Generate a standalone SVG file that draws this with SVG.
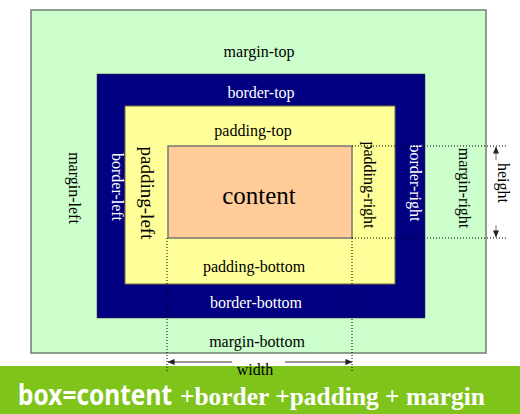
<svg xmlns="http://www.w3.org/2000/svg" width="520" height="414" viewBox="0 0 520 414">
<style>
.t{font-family:"Liberation Serif","Times New Roman",serif;font-size:16px;fill:#000;text-anchor:middle}
.w{fill:#fff}
.dot{stroke:#000;stroke-width:1;stroke-dasharray:1,2;fill:none}
.arr{stroke:#777;stroke-width:1.5;fill:none}
</style>
<defs>
<marker id="ah" viewBox="0 0 8 8" refX="7.5" refY="4" markerWidth="7" markerHeight="7" orient="auto-start-reverse" markerUnits="userSpaceOnUse">
<path d="M0,0.5 L8,4 L0,7.5 z" fill="#222"/>
</marker>
</defs>
<rect width="520" height="414" fill="#fff"/>
<g id="margin">
<rect x="31" y="10" width="455" height="343" fill="#ccffcc" stroke="#6f7f6f" stroke-width="1.5"/>
<text class="t" x="259" y="57">margin-top</text>
<text class="t" x="257" y="347">margin-bottom</text>
<text class="t" transform="translate(69,188) rotate(90)">margin-left</text>
<text class="t" transform="translate(459,188) rotate(90)">margin-right</text>
</g>
<g id="border">
<rect x="97" y="74" width="328" height="244" fill="#000080" stroke="#333" stroke-width="0.5"/>
<text class="t w" x="261" y="98">border-top</text>
<text class="t w" x="256" y="308">border-bottom</text>
<text class="t w" transform="translate(112,187) rotate(90)">border-left</text>
<text class="t w" transform="translate(410,183) rotate(90)">border-right</text>
</g>
<g id="padding">
<rect x="125" y="106" width="270" height="178" fill="#ffff99" stroke="#7a6a3a" stroke-width="1"/>
<text class="t" x="253" y="136">padding-top</text>
<text class="t" x="254" y="272">padding-bottom</text>
<text class="t" style="font-size:19px" transform="translate(141,193) rotate(90)">padding-left</text>
<text class="t" transform="translate(364,185) rotate(90)">padding-right</text>
</g>
<g id="content">
<rect x="168" y="146" width="184" height="92" fill="#ffcc99" stroke="#777" stroke-width="1.5"/>
<text class="t" style="font-size:25px" x="259" y="204">content</text>
</g>
<g id="banner">
<rect x="0" y="366" width="520" height="48" fill="#7fc41a"/>
<text x="18" y="405" textLength="154" lengthAdjust="spacingAndGlyphs" style="font-family:'Noto Sans','Open Sans',sans-serif;font-weight:bold;font-size:29px;fill:#fff">box=content</text>
<text x="180" y="405" textLength="305" lengthAdjust="spacingAndGlyphs" style="font-family:'Liberation Serif','Times New Roman',serif;font-weight:bold;font-size:25px;fill:#fff">+border +padding + margin</text>
</g>
<g id="connectors">
<line class="dot" x1="352" y1="146" x2="507" y2="146"/>
<line class="dot" x1="352" y1="238" x2="507" y2="238"/>
<line class="dot" x1="167" y1="238" x2="167" y2="373"/>
<line class="dot" x1="352" y1="238" x2="352" y2="373"/>
<line class="arr" x1="232" y1="362" x2="168" y2="362" marker-end="url(#ah)"/>
<line class="arr" x1="285" y1="362" x2="352" y2="362" marker-end="url(#ah)"/>
<line class="arr" x1="496" y1="160" x2="496" y2="147" marker-end="url(#ah)" style="stroke-width:1"/>
<line class="arr" x1="496" y1="225" x2="496" y2="237" marker-end="url(#ah)" style="stroke-width:1"/>
</g>
<g id="labels">
<text class="t" x="255" y="375">width</text>
<text class="t" transform="translate(498,183) rotate(90)">height</text>
</g>
</svg>
